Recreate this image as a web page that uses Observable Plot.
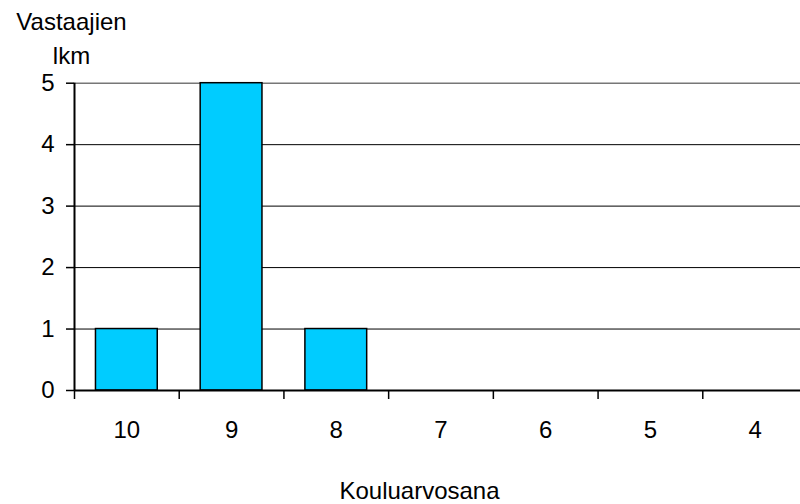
<!DOCTYPE html>
<html><head><meta charset="utf-8">
<script src="https://cdn.jsdelivr.net/npm/d3@7"></script>
<script src="https://cdn.jsdelivr.net/npm/@observablehq/plot@0.6"></script>
<style>body{margin:0;background:#fff}</style>
</head><body><div id="chart"></div>
<script>
const grades = ["10","9","8","7","6","5","4"];
const counts = [1,5,1,0,0,0,0];
const yTicks = [0,1,2,3,4,5];
const yTitle = "Vastaajien\nlkm";
const xTitle = "Kouluarvosana";

const data = grades.map((g,i)=>({grade:g,count:counts[i]}));
const xRange=[74,807];
const step=(xRange[1]-xRange[0])/grades.length;
const font='"Liberation Sans", Arial, sans-serif';
const chart = Plot.plot({
  width:800,height:504,
  marginLeft:74, marginRight:-7, marginTop:83, marginBottom:114,
  style:{fontFamily:font, fontSize:"24px", color:"#000", background:"#fff", overflow:"visible"},
  x:{domain:grades, range:xRange, round:false, paddingInner:0.41, paddingOuter:0.205},
  y:{domain:[0,5], range:[390,82.7]},
  marks:[
    Plot.ruleY(yTicks.filter(d=>d>0&&d<5), {stroke:"#000", strokeWidth:1}),
    Plot.ruleY([5], {stroke:"#777", strokeWidth:1.5}),
    Plot.barY(data,{x:"grade",y:"count",fill:"#00CCFF",stroke:"#000",strokeWidth:1.5}),
    Plot.ruleY([0],{stroke:"#000",strokeWidth:2}),
    Plot.ruleX([grades[0]], {x:d=>d, dx:-step/2, y1:0, y2:5, stroke:"#000", strokeWidth:2}),
    Plot.axisY({ticks:yTicks, tickFormat:"d", tickSize:8, tickPadding:12, label:null, stroke:"#000", strokeWidth:1.5, fontSize:24}),
    Plot.axisX({tickSize:9, tickFormat:()=>"", dx:-step/2, label:null, stroke:"#000", strokeWidth:1.5}),
    Plot.axisX({tickSize:0, tickPadding:30, label:null, fontSize:24}),
    Plot.text([yTitle], {frameAnchor:"top-left", dx:-3, dy:63-83, lineAnchor:"bottom", lineHeight:1.417, textAnchor:"middle", fontSize:24}),
    Plot.text([xTitle], {frameAnchor:"bottom-left", dx:419-74, dy:108, lineAnchor:"bottom", textAnchor:"middle", fontSize:24})
  ]
});
document.getElementById("chart").append(chart);
</script>
</body></html>
